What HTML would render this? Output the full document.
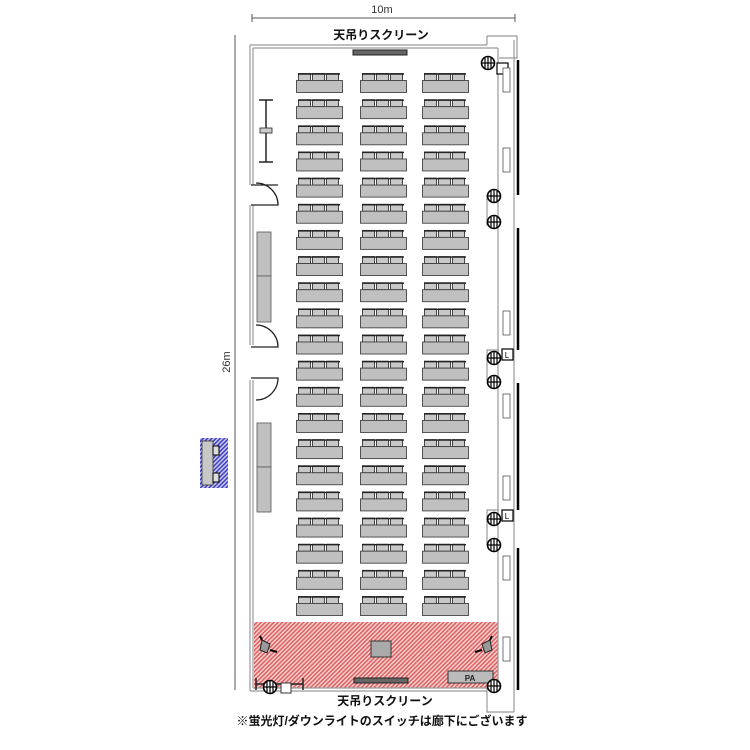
<!DOCTYPE html>
<html><head><meta charset="utf-8"><style>
html,body{margin:0;padding:0;background:#fff;}
svg{display:block}
text{font-family:"Liberation Sans","Noto Sans CJK JP",sans-serif;}
</style></head><body>
<svg width="750" height="750" viewBox="0 0 750 750" xmlns="http://www.w3.org/2000/svg">
<defs>
<pattern id="hr" patternUnits="userSpaceOnUse" width="3" height="3" patternTransform="rotate(45)">
<rect width="3" height="3" fill="#f6d0d0"/><rect width="1.5" height="3" fill="#e06060"/></pattern>
<pattern id="hb" patternUnits="userSpaceOnUse" width="3" height="3" patternTransform="rotate(45)">
<rect width="3" height="3" fill="#c8c8f0"/><rect width="1.5" height="3" fill="#4040c0"/></pattern>
<g id="d">
<rect x="0.5" y="0.5" width="12" height="7" fill="#c8c8c8" stroke="#333" stroke-width="0.9"/>
<rect x="14.5" y="0.5" width="12" height="7" fill="#c8c8c8" stroke="#333" stroke-width="0.9"/>
<rect x="28.5" y="0.5" width="12" height="7" fill="#c8c8c8" stroke="#333" stroke-width="0.9"/>
<line x1="0" y1="1" x2="42" y2="1" stroke="#222" stroke-width="1.4"/>
<rect x="-1.5" y="7.5" width="46" height="12" fill="#c0c0c0" stroke="#444" stroke-width="0.9"/>
</g>
<g id="L"><circle cx="0" cy="0" r="6.5" fill="#fff" stroke="#000" stroke-width="1.6"/><path d="M-6 0H6M0 -6V6M-3 -5V5M3 -5V5" stroke="#000" stroke-width="1.2"/></g>
<g id="p"><rect x="0" y="0" width="7" height="24" fill="#fff" stroke="#555" stroke-width="0.8"/></g>
</defs>

<line x1="252" y1="18" x2="515" y2="18" stroke="#555"/>
<line x1="252" y1="14" x2="252" y2="22" stroke="#555"/><line x1="515" y1="14" x2="515" y2="22" stroke="#555"/>
<text x="382" y="13" font-size="11" text-anchor="middle" fill="#333">10m</text>
<line x1="235" y1="35" x2="235" y2="690" stroke="#555"/>
<text x="230" y="362" font-size="11" text-anchor="middle" fill="#333" transform="rotate(-90 230 362)">26m</text>

<text x="381" y="39" font-size="12" font-weight="bold" text-anchor="middle" fill="#111">天吊りスクリーン</text>

<rect x="254" y="622" width="244" height="66" fill="url(#hr)"/>

<g fill="none" stroke="#999" stroke-width="1.2">
<path d="M250 45H487M253 48H498"/>
<path d="M250 45V185M253 48V185M250 205V345M253 205V345M250 380V691M253 380V688"/>
<path d="M250 691H487M253 688H498"/>
<path d="M498 48V688M514 40V712"/>
<path d="M487 36H517V58H499M487 36V45"/>
<path d="M487 688V712H514"/>
<path d="M499 195H487V225H499M499 350H487V380H499M499 510H487V545H499"/>
</g>
<g stroke="#000" stroke-width="2.5">
<line x1="518" y1="60" x2="518" y2="195"/>
<line x1="518" y1="228" x2="518" y2="350"/>
<line x1="518" y1="383" x2="518" y2="510"/>
<line x1="518" y1="548" x2="518" y2="690"/>
</g>
<g fill="none" stroke="#222" stroke-width="1.3">
<path d="M251 185H278M251 205H278A22 22 0 0 0 256 183"/>
<path d="M251 347H278A22 22 0 0 0 256 325M251 378H278A22 22 0 0 1 256 400"/>
</g>
<g fill="#c0c0c0" stroke="#555" stroke-width="0.8">
<rect x="257" y="232" width="14" height="44"/><rect x="257" y="276" width="14" height="46"/>
<rect x="257" y="423" width="14" height="44"/><rect x="257" y="467" width="14" height="45"/>
</g>
<rect x="200" y="438" width="28" height="50" fill="url(#hb)"/>
<rect x="202" y="441" width="11" height="44" fill="#c8c8c8" stroke="#333" stroke-width="0.8"/>
<rect x="213" y="446" width="6" height="9" fill="#ddd" stroke="#000"/><rect x="213" y="473" width="6" height="9" fill="#ddd" stroke="#000"/>

<g stroke="#222" stroke-width="1.5"><line x1="266" y1="100" x2="266" y2="162"/><line x1="259" y1="100" x2="273" y2="100"/><line x1="259" y1="162" x2="273" y2="162"/></g>
<rect x="260" y="128" width="12" height="5" fill="#ccc" stroke="#222" stroke-width="0.8"/>

<rect x="353" y="50" width="54" height="5" fill="#666" stroke="#222"/>
<rect x="354" y="678" width="54" height="5" fill="#666" stroke="#222"/>
<text x="385" y="705" font-size="12" font-weight="bold" text-anchor="middle" fill="#111">天吊りスクリーン</text>
<text x="382" y="725" font-size="12" font-weight="bold" text-anchor="middle" fill="#111">※蛍光灯/ダウンライトのスイッチは廊下にございます</text>

<rect x="371" y="641" width="20" height="16" fill="#aaa" stroke="#333"/>
<rect x="448" y="671" width="45" height="12" fill="#bbb" stroke="#333"/>
<text x="470" y="681" font-size="8" font-weight="bold" text-anchor="middle" fill="#222">PA</text>
<path d="M262 640l8 4-3 9-7-3z" fill="#999" stroke="#222"/><path d="M262 640l-2-4M270 650l7 2" stroke="#000" stroke-width="2"/>
<path d="M490 640l-8 4 3 9 7-3z" fill="#999" stroke="#222"/><path d="M490 640l2-4M482 650l-7 2" stroke="#000" stroke-width="2"/>
<g stroke="#222" stroke-width="1.5"><line x1="256" y1="684" x2="303" y2="684"/><line x1="256" y1="678" x2="256" y2="690"/><line x1="303" y1="678" x2="303" y2="690"/></g>
<rect x="281" y="683" width="10" height="10" fill="#fff" stroke="#333"/>

<use href="#L" x="488" y="63"/><use href="#L" x="494" y="196"/><use href="#L" x="494" y="222"/>
<use href="#L" x="494" y="358"/><use href="#L" x="494" y="382"/><use href="#L" x="494" y="519"/>
<use href="#L" x="494" y="545"/><use href="#L" x="494" y="686"/><use href="#L" x="270" y="687"/>
<g fill="#fff" stroke="#000" stroke-width="1.2">
<rect x="497" y="63" width="11" height="11"/><rect x="502" y="349" width="11" height="11"/><rect x="502" y="510" width="11" height="11"/></g>
<text x="507" y="358" font-size="8" text-anchor="middle">L</text><text x="507" y="519" font-size="8" text-anchor="middle">L</text>
<use href="#p" x="503" y="68"/><use href="#p" x="503" y="148"/><use href="#p" x="503" y="311"/>
<use href="#p" x="503" y="394"/><use href="#p" x="503" y="476"/><use href="#p" x="503" y="556"/><use href="#p" x="503" y="637"/>

<g id="row">
<use href="#d" x="298" y="73"/><use href="#d" x="362" y="73"/><use href="#d" x="424" y="73"/>
</g>
<use href="#row" y="26.15"/><use href="#row" y="52.3"/><use href="#row" y="78.45"/><use href="#row" y="104.6"/>
<use href="#row" y="130.75"/><use href="#row" y="156.9"/><use href="#row" y="183.05"/><use href="#row" y="209.2"/>
<use href="#row" y="235.35"/><use href="#row" y="261.5"/><use href="#row" y="287.65"/><use href="#row" y="313.8"/>
<use href="#row" y="339.95"/><use href="#row" y="366.1"/><use href="#row" y="392.25"/><use href="#row" y="418.4"/>
<use href="#row" y="444.55"/><use href="#row" y="470.7"/><use href="#row" y="496.85"/><use href="#row" y="523"/>
</svg>
</body></html>
